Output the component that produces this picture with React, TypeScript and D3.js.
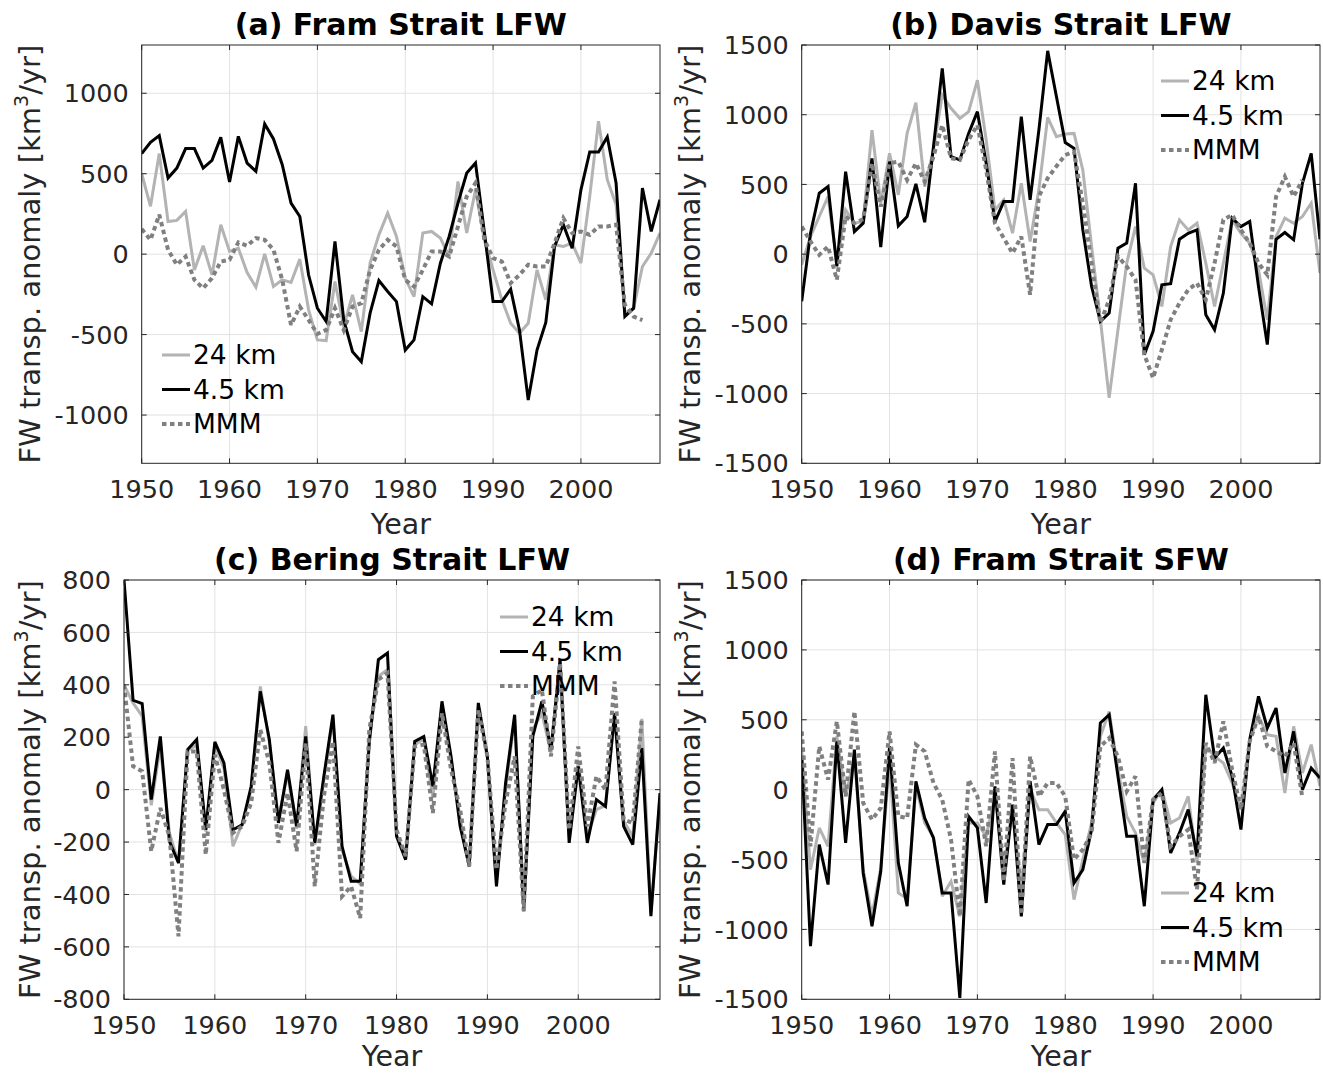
import * as d3 from 'd3';

// x categories: annual values 1950-2009, the multi-model mean stops at 2007
const years = d3.range(1950, 2010);
const mmmYears = d3.range(1950, 2008);

// (a) Fram Strait LFW
const framLfw24 = [500, 297, 625, 203, 210, 266, -98, 52, -129, 183, 17, 37, -114, -205, 2, -201, -160, -176, -31, -346,
  -533, -537, -170, -450, -253, -481, -56, 120, 255, 110, -150, -264, 131, 141, 100, -15, 452, 131, 400, 89,
  -98, -284, -430, -492, -430, -98, -284, 58, 48, 68, -56, 359, 826, 463, 307, -367, -336, -77, 6, 131];
const framLfw45 = [625, 695, 737, 473, 535, 656, 656, 535, 583, 726, 448, 732, 566, 515, 809, 716, 556, 317, 234, -130,
  -336, -419, 79, -409, -606, -668, -367, -164, -232, -295, -596, -533, -264, -309, -56, 110, 317, 504, 566, 140,
  -295, -295, -218, -471, -907, -596, -425, 48, 183, 37, 400, 635, 635, 728, 442, -388, -336, 411, 141, 338];
const framLfwMmm = [156, 89, 245, 27, -66, -15, -160, -212, -149, -46, -35, 73, 52, 100, 89, 27, -160, -440, -326, -409,
  -496, -471, -336, -471, -326, -305, -98, 27, 89, 48, -160, -201, -98, 17, 17, -15, 172, 359, 442, 89,
  -25, -46, -180, -129, -66, -77, -77, 68, 224, 131, 141, 120, 172, 172, 183, -315, -388, -410];

// (b) Davis Strait LFW
const davisLfw24 = [-76, 126, 270, 413, -64, 317, 222, 234, 890, 365, 723, 425, 866, 1086, 485, 747, 1141, 1046, 974, 1022,
  1248, 819, 317, 389, 150, 508, 91, 461, 981, 843, 862, 866, 604, 55, -470, -1031, -542, -64, 198, -100,
  -148, -375, 55, 246, 174, 222, -64, -375, -64, 246, 150, 79, -112, -470, 126, 258, 222, 270, 365, -136];
const davisLfw45 = [-339, 150, 437, 485, -88, 592, 162, 222, 687, 50, 664, 203, 270, 504, 229, 770, 1332, 699, 676, 866,
  1022, 652, 234, 377, 377, 986, 389, 890, 1458, 1129, 800, 759, 174, -232, -482, -422, 43, 79, 508, -721,
  -554, -220, -212, 107, 150, 174, -434, -542, -279, 258, 198, 234, -232, -649, 107, 155, 103, 508, 723, 107];
const davisLfwMmm = [198, 91, -5, 55, -184, 270, 222, 251, 652, 341, 652, 663, 532, 652, 520, 699, 926, 687, 676, 819,
  926, 604, 222, 115, 7, 126, -291, 413, 545, 630, 711, 735, 365, -64, -494, -327, -17, -88, -184, -721,
  -888, -685, -470, -351, -255, -208, -327, -64, 246, 282, 174, 79, -64, -148, 413, 556, 413, 532];

// (c) Bering Strait LFW
const beringLfw24 = [400, 331, 280, -60, 165, -165, -280, 150, 170, -160, 170, 80, -216, -130, 0, 394, 180, -110, 60, -150,
  242, -210, 40, 270, -230, -330, -360, 200, 432, 458, -170, -260, 170, 195, -30, 310, 110, -110, -295, 315,
  120, -340, 0, 270, -440, 230, 292, 140, 470, -180, 110, -178, -76, -60, 280, -120, -180, 270, -470, -20];
const beringLfw45 = [801, 341, 328, -38, 203, -197, -280, 153, 191, -153, 182, 102, -153, -134, 13, 375, 191, -127, 76, -140,
  203, -203, 51, 286, -216, -350, -350, 180, 496, 521, -178, -267, 184, 203, 13, 337, 127, -140, -292, 331,
  127, -369, 25, 286, -464, 203, 337, 153, 498, -203, 89, -203, -38, -64, 292, -140, -210, 159, -483, -13];
const beringLfwMmm = [400, 89, 70, -235, -70, -178, -560, 146, 146, -248, 133, 0, -165, -140, -51, 229, 102, -203, -13, -235,
  178, -369, -25, 184, -407, -369, -490, 229, 420, 445, -153, -254, 165, 172, -89, 292, 76, -76, -292, 305,
  127, -305, -51, 127, -464, 356, 381, 127, 483, -153, 165, -140, 51, 0, 413, -114, -127, 273];

// (d) Fram Strait SFW
const framSfw24 = [286, -572, -274, -405, 381, -48, 238, -572, -900, -560, 191, -739, -780, 24, -238, -340, -763, -656, -906, -238,
  -238, -334, -48, -550, -167, -700, 0, -143, -143, -238, -322, -787, -500, -238, 381, 560, 143, -191, -310, -524,
  -95, 0, -238, -203, -48, -524, 310, 238, 191, 48, -143, 358, 524, 393, 381, -24, 453, 119, 322, 24];
const framSfw45 = [238, -1120, -393, -679, 346, -381, 286, -596, -977, -584, 310, -524, -834, 60, -203, -346, -739, -739, -1490, -191,
  -274, -811, 24, -679, -107, -906, 60, -393, -250, -250, -155, -668, -572, -286, 477, 536, 95, -334, -334, -834,
  -72, 0, -453, -310, -143, -477, 679, 226, 298, 95, -286, 358, 668, 441, 584, 119, 417, 0, 155, 83];
const framSfwMmm = [417, -405, 310, 72, 489, -48, 560, -95, -215, -131, 417, -191, -203, 322, 274, 48, -72, -358, -906, 72,
  -48, -405, 274, -656, 226, -894, 238, -48, 48, 48, -48, -500, -429, -310, 310, 369, 238, -12, 95, -524,
  -72, -24, -405, -334, -286, -715, 334, 191, 489, 143, -143, 346, 524, 310, 274, 238, 334, -60];

const seriesLabels = ['24 km', '4.5 km', 'MMM'];

const FONT = 'DejaVu Sans';
const AXIS_COLOR = '#262626';
const GRID_COLOR = '#e2e2e2';

const styles = [
  { color: '#b3b3b3', width: 3, dash: undefined as string | undefined },
  { color: '#000000', width: 3, dash: undefined as string | undefined },
  { color: '#808080', width: 4, dash: '4.5 3.5' },
];

interface PanelSpec {
  id: string;
  title: string;
  left: number;
  right: number;
  top: number;
  bottom: number;
  yDomain: [number, number];
  yStep: number;
  legendX: number;
  legendY: number;
  ylabelX: number;
  xlabelGap: number;
  series: number[][];
}

const panels: PanelSpec[] = [
  { id: 'a', title: '(a) Fram Strait LFW', left: 141.7, right: 660, top: 45, bottom: 463.3, yDomain: [-1300, 1300], yStep: 500,
    legendX: 162, legendY: 355, ylabelX: 40, xlabelGap: 71, series: [framLfw24, framLfw45, framLfwMmm] },
  { id: 'b', title: '(b) Davis Strait LFW', left: 801.7, right: 1320, top: 45, bottom: 463.3, yDomain: [-1500, 1500], yStep: 500,
    legendX: 1161, legendY: 81, ylabelX: 700, xlabelGap: 71, series: [davisLfw24, davisLfw45, davisLfwMmm] },
  { id: 'c', title: '(c) Bering Strait LFW', left: 124, right: 660, top: 580, bottom: 999.3, yDomain: [-800, 800], yStep: 200,
    legendX: 500, legendY: 617, ylabelX: 40, xlabelGap: 67, series: [beringLfw24, beringLfw45, beringLfwMmm] },
  { id: 'd', title: '(d) Fram Strait SFW', left: 801.7, right: 1320, top: 580, bottom: 999.3, yDomain: [-1500, 1500], yStep: 500,
    legendX: 1161, legendY: 893, ylabelX: 700, xlabelGap: 67, series: [framSfw24, framSfw45, framSfwMmm] },
];

function Panel({ p }: { p: PanelSpec }) {
  const x = d3.scaleLinear().domain([1950, 2009]).range([p.left, p.right]);
  const y = d3.scaleLinear().domain(p.yDomain).range([p.bottom, p.top]);
  const xTicks = d3.range(1950, 2001, 10);
  const yTicks = d3.range(-2000, 2001, p.yStep).filter(v => v >= p.yDomain[0] && v <= p.yDomain[1]);
  const line = d3.line<[number, number]>().x(d => x(d[0])).y(d => y(d[1]));
  const clipId = `clip-${p.id}`;
  const cx = (p.left + p.right) / 2;
  const cy = (p.top + p.bottom) / 2;
  const tickLen = 5;

  return (
    <g>
      <defs>
        <clipPath id={clipId}>
          <rect x={p.left} y={p.top} width={p.right - p.left} height={p.bottom - p.top} />
        </clipPath>
      </defs>
      <rect x={p.left} y={p.top} width={p.right - p.left} height={p.bottom - p.top} fill="#fff" />

      {/* grid */}
      {xTicks.map(t => (
        <line key={`gx${t}`} x1={x(t)} x2={x(t)} y1={p.top} y2={p.bottom} stroke={GRID_COLOR} strokeWidth={1} />
      ))}
      {yTicks.map(t => (
        <line key={`gy${t}`} x1={p.left} x2={p.right} y1={y(t)} y2={y(t)} stroke={GRID_COLOR} strokeWidth={1} />
      ))}

      {/* data lines */}
      <g clipPath={`url(#${clipId})`}>
        {p.series.map((vals, i) => {
          const yrs = i === 2 ? mmmYears : years;
          const pts = vals.map((v, k) => [yrs[k], v] as [number, number]);
          const s = styles[i];
          return (
            <path key={i} d={line(pts) ?? ''} fill="none" stroke={s.color} strokeWidth={s.width}
              strokeDasharray={s.dash} strokeLinejoin="miter" strokeMiterlimit={3} />
          );
        })}
      </g>

      {/* box and ticks */}
      <rect x={p.left} y={p.top} width={p.right - p.left} height={p.bottom - p.top} fill="none" stroke={AXIS_COLOR} strokeWidth={1} />
      {xTicks.map(t => (
        <g key={`tx${t}`}>
          <line x1={x(t)} x2={x(t)} y1={p.bottom} y2={p.bottom - tickLen} stroke={AXIS_COLOR} />
          <line x1={x(t)} x2={x(t)} y1={p.top} y2={p.top + tickLen} stroke={AXIS_COLOR} />
          <text x={x(t)} y={p.bottom + 35} textAnchor="middle" fontSize={25.5} fill={AXIS_COLOR} fontFamily={FONT}>{t}</text>
        </g>
      ))}
      {yTicks.map(t => (
        <g key={`ty${t}`}>
          <line x1={p.left} x2={p.left + tickLen} y1={y(t)} y2={y(t)} stroke={AXIS_COLOR} />
          <line x1={p.right} x2={p.right - tickLen} y1={y(t)} y2={y(t)} stroke={AXIS_COLOR} />
          <text x={p.left - 13} y={y(t)} dy="0.36em" textAnchor="end" fontSize={25.5} fill={AXIS_COLOR} fontFamily={FONT}>{t}</text>
        </g>
      ))}

      {/* labels */}
      <text x={cx} y={p.top - 10.5} textAnchor="middle" fontSize={30} fontWeight="bold" fill="#000" fontFamily={FONT}>{p.title}</text>
      <text x={cx} y={p.bottom + p.xlabelGap} textAnchor="middle" fontSize={28.5} fill={AXIS_COLOR} fontFamily={FONT}>Year</text>
      <text transform={`translate(${p.ylabelX},${cy}) rotate(-90)`} textAnchor="middle" fontSize={29} fill={AXIS_COLOR} fontFamily={FONT}>
        FW transp. anomaly [km<tspan dy="-12" fontSize={19}>3</tspan><tspan dy="12">/yr]</tspan>
      </text>

      {/* legend */}
      {seriesLabels.map((lab, i) => {
        const ly = p.legendY + i * 34.5;
        const s = styles[i];
        return (
          <g key={lab}>
            <line x1={p.legendX} x2={p.legendX + 28} y1={ly} y2={ly} stroke={s.color} strokeWidth={s.width}
              strokeDasharray={s.dash} />
            <text x={p.legendX + 31} y={ly + 9} fontSize={26.5} fill="#000" fontFamily={FONT}>{lab}</text>
          </g>
        );
      })}
    </g>
  );
}

export default function App() {
  return (
    <div style={{ position: 'absolute', left: 0, top: 0 }}>
      <svg width={1323} height={1076} style={{ display: 'block', background: '#fff' }}>
        <rect width={1323} height={1076} fill="#fff" />
        {panels.map(p => <Panel key={p.id} p={p} />)}
      </svg>
    </div>
  );
}
